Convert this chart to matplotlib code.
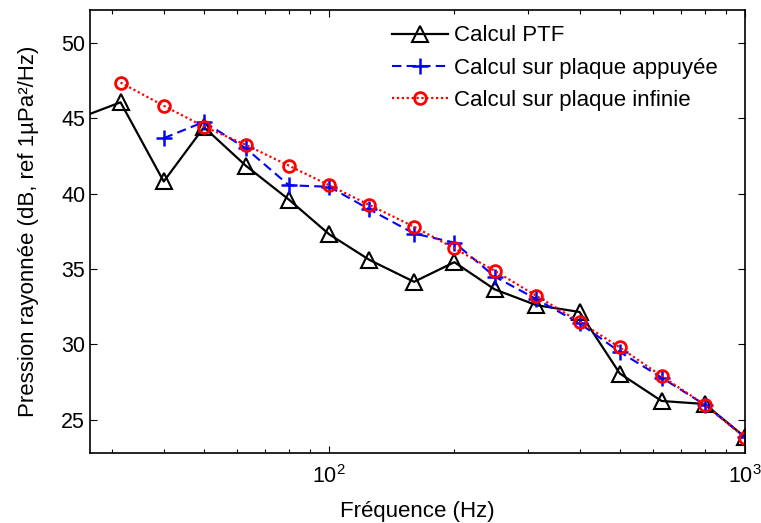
import matplotlib
matplotlib.use("Agg")
import matplotlib.pyplot as plt

plt.rcParams['font.family'] = ['Liberation Sans', 'DejaVu Sans']

freq_ptf = [25, 31.5, 40, 50, 63, 80, 100, 125, 160, 200, 250, 315, 400, 500, 630, 800, 1000]
ptf = [45.0, 46.05, 40.8, 44.4, 41.85, 39.6, 37.3, 35.6, 34.15, 35.45, 33.65, 32.6, 32.15, 28.07, 26.25, 26.05, 23.85]

freq_app = [40, 50, 63, 80, 100, 125, 160, 200, 250, 315, 400, 500, 630, 800, 1000]
appuyee = [43.67, 44.75, 43.0, 40.55, 40.45, 38.95, 37.35, 36.75, 34.5, 33.0, 31.4, 29.5, 27.8, 26.0, 23.85]

freq_inf = [31.5, 40, 50, 63, 80, 100, 125, 160, 200, 250, 315, 400, 500, 630, 800, 1000]
infinie = [47.36, 45.82, 44.44, 43.23, 41.85, 40.55, 39.24, 37.8, 36.37, 34.88, 33.22, 31.5, 29.8, 27.9, 26.0, 23.82]

fig = plt.figure(figsize=(7.61, 5.23), dpi=100)
ax = fig.add_axes([0.1183, 0.1338, 0.979 - 0.1183, 0.9818 - 0.1338])

ax.plot(freq_ptf, ptf, color='black', lw=1.6, marker='^', ms=12, mfc='none',
        mec='black', mew=1.5, label='Calcul PTF')
ax.plot(freq_app, appuyee, color='#0000ff', lw=1.5, ls=(0, (4.5, 2.5)), marker='+', ms=11,
        mew=1.8, label='Calcul sur plaque appuyée')
ax.plot(freq_inf, infinie, color='#ff0000', lw=1.6, ls=(0, (1, 1.2)), marker='o', ms=8.5, mfc='none',
        mec='#ff0000', mew=2.0, label='Calcul sur plaque infinie')

ax.set_xscale('log')
ax.set_xlim(26.6, 1000)
ax.set_ylim(22.8, 52.2)
ax.set_yticks([25, 30, 35, 40, 45, 50])

ax.tick_params(axis='both', which='both', direction='in', top=True, right=True, labelsize=15.5)
ax.tick_params(axis='x', which='major', pad=9)
ax.tick_params(which='major', length=5, width=0.8)
ax.tick_params(which='minor', length=3, width=0.8)
for s in ax.spines.values():
    s.set_linewidth(1.2)

ax.set_xlabel('Fréquence (Hz)', fontsize=16, labelpad=9)
ax.set_ylabel('Pression rayonnée (dB, ref 1µPa²/Hz)', fontsize=16, labelpad=16)

ax.legend(loc='upper left', bbox_to_anchor=(0.461, 0.964), frameon=False, fontsize=16,
          handlelength=2.5, handletextpad=0.3, labelspacing=0.5, borderaxespad=0, borderpad=0)

fig.savefig('out.png', dpi=100)
